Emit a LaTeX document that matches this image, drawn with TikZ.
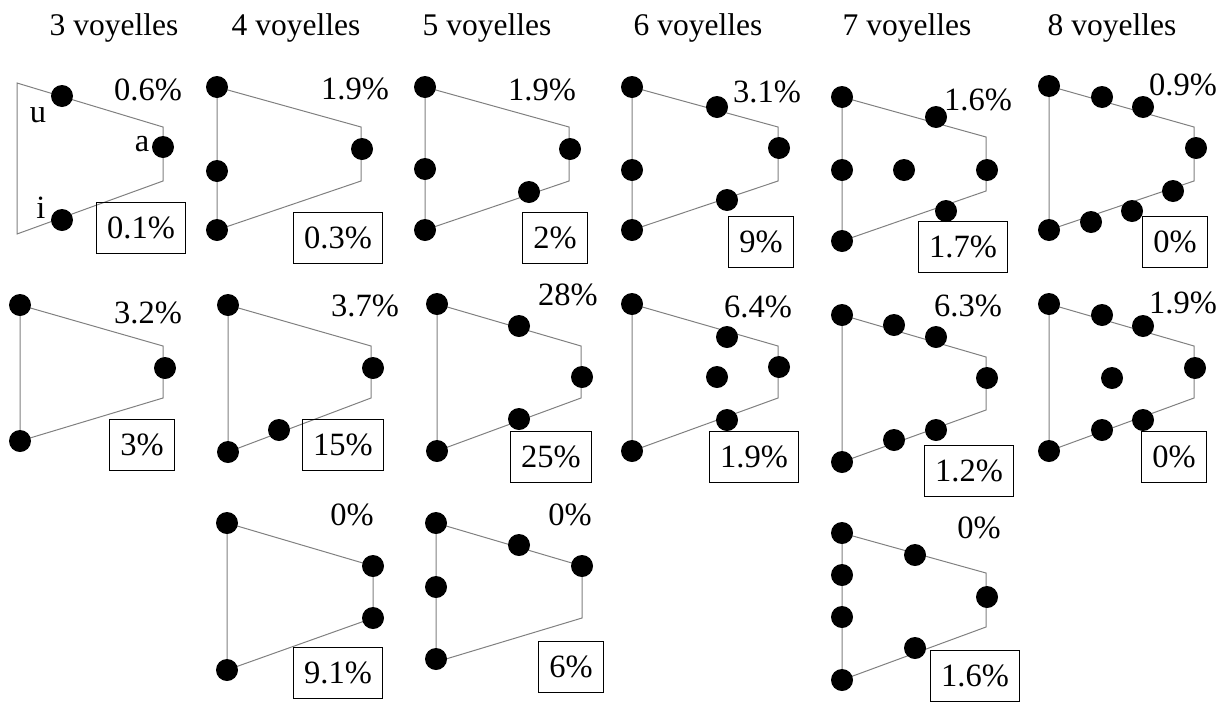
\documentclass[tikz,border=0pt]{standalone}
\usepackage{fontspec}
\setmainfont{Liberation Serif}
\begin{document}
\begin{tikzpicture}[x=1pt,y=-1pt,
  trap/.style={draw=gray,line width=1pt,line join=miter},
  dot/.style={circle,fill=black,draw=none,inner sep=0pt,minimum size=22pt},
  txt/.style={font=\fontsize{32.5}{38}\selectfont,inner sep=0pt},
  ttl/.style={font=\fontsize{31.5}{37}\selectfont,inner sep=0pt,anchor=base},
  pbox/.style={txt,draw=black,line width=1.1pt,inner xsep=11pt,inner ysep=0pt,minimum height=51pt}]
\useasboundingbox (0,0) rectangle (1221,702);
% titles
\node[ttl] (t3) at (114,35) {3 voyelles};
\node[ttl] (t4) at (296,35) {4 voyelles};
\node[ttl] (t5) at (487,35) {5 voyelles};
\node[ttl] (t6) at (698,35) {6 voyelles};
\node[ttl] (t7) at (907,35) {7 voyelles};
\node[ttl] (t8) at (1112,35) {8 voyelles};
% ---------- row 1 ----------
\draw[trap] (17,83) -- (163,127) -- (163,181) -- (17,234) -- cycle;
\draw[trap] (217,87) -- (361,127) -- (361,181) -- (217,230) -- cycle;
\draw[trap] (425,87) -- (569,127) -- (569,181) -- (425,230) -- cycle;
\draw[trap] (632,87) -- (778,127) -- (778,181) -- (632,230) -- cycle;
\draw[trap] (842,97) -- (986,137) -- (986,191) -- (842,241) -- cycle;
\draw[trap] (1049,86) -- (1194,127) -- (1194,181) -- (1049,230) -- cycle;
% ---------- row 2 ----------
\draw[trap] (20,305) -- (163,346) -- (163,398) -- (20,441) -- cycle;
\draw[trap] (228,305) -- (371,346) -- (371,398) -- (228,452) -- cycle;
\draw[trap] (437,304) -- (581,346) -- (581,398) -- (437,451) -- cycle;
\draw[trap] (632,304) -- (778,346) -- (778,398) -- (632,451) -- cycle;
\draw[trap] (842,315) -- (986,357) -- (986,410) -- (842,462) -- cycle;
\draw[trap] (1049,304) -- (1194,346) -- (1194,398) -- (1049,451) -- cycle;
% ---------- row 3 ----------
\draw[trap] (227,523) -- (373,566) -- (373,618) -- (227,670) -- cycle;
\draw[trap] (436,523) -- (582,566) -- (582,618) -- (436,662) -- cycle;
\draw[trap] (842,533) -- (986,573) -- (986,627) -- (842,680) -- cycle;
% ---------- dots ----------
\foreach \x/\y [count=\i] in {62/96,163/147,62/220}
  \node[dot] (a1-\i) at (\x,\y) {};
\foreach \x/\y [count=\i] in {217/87,217/171,217/230,362/149}
  \node[dot] (a2-\i) at (\x,\y) {};
\foreach \x/\y [count=\i] in {425/87,425/169,425/230,570/149,529/192}
  \node[dot] (a3-\i) at (\x,\y) {};
\foreach \x/\y [count=\i] in {632/87,632/170,632/230,717/107,779/148,727/200}
  \node[dot] (a4-\i) at (\x,\y) {};
\foreach \x/\y [count=\i] in {842/97,842/170,842/241,904/170,936/117,987/170,946/211}
  \node[dot] (a5-\i) at (\x,\y) {};
\foreach \x/\y [count=\i] in {1049/86,1102/97,1143/107,1196/148,1173/191,1132/211,1091/222,1049/230}
  \node[dot] (a6-\i) at (\x,\y) {};
\foreach \x/\y [count=\i] in {20/305,165/368,20/441}
  \node[dot] (b1-\i) at (\x,\y) {};
\foreach \x/\y [count=\i] in {228/305,373/368,279/430,228/452}
  \node[dot] (b2-\i) at (\x,\y) {};
\foreach \x/\y [count=\i] in {437/304,519/326,582/377,519/419,437/451}
  \node[dot] (b3-\i) at (\x,\y) {};
\foreach \x/\y [count=\i] in {632/304,727/337,717/377,779/367,727/420,632/451}
  \node[dot] (b4-\i) at (\x,\y) {};
\foreach \x/\y [count=\i] in {842/315,894/325,936/337,987/378,936/430,894/440,842/462}
  \node[dot] (b5-\i) at (\x,\y) {};
\foreach \x/\y [count=\i] in {1049/304,1102/315,1143/326,1195/368,1112/378,1143/420,1102/430,1049/451}
  \node[dot] (b6-\i) at (\x,\y) {};
\foreach \x/\y [count=\i] in {227/523,373/566,373/618,227/670}
  \node[dot] (c2-\i) at (\x,\y) {};
\foreach \x/\y [count=\i] in {436/523,436/587,436/659,519/545,582/566}
  \node[dot] (c3-\i) at (\x,\y) {};
\foreach \x/\y [count=\i] in {842/533,842/575,842/617,842/680,915/555,987/597,915/648}
  \node[dot] (c5-\i) at (\x,\y) {};
% vowel labels
\node[txt] (lu) at (38,115) {u};
\node[txt] (la) at (142,144) {a};
\node[txt] (li) at (41,208) {i};
% top percentages
\node[txt] (pa1) at (148,90) {0.6\%};
\node[txt] (pa2) at (355,89) {1.9\%};
\node[txt] (pa3) at (542,90) {1.9\%};
\node[txt] (pa4) at (767,92) {3.1\%};
\node[txt] (pa5) at (978,100) {1.6\%};
\node[txt] (pa6) at (1183,85) {0.9\%};
\node[txt] (pb1) at (148,313) {3.2\%};
\node[txt] (pb2) at (365,306) {3.7\%};
\node[txt] (pb3) at (568,295) {28\%};
\node[txt] (pb4) at (758,307) {6.4\%};
\node[txt] (pb5) at (968,306) {6.3\%};
\node[txt] (pb6) at (1183,303) {1.9\%};
\node[txt] (pc2) at (352,515) {0\%};
\node[txt] (pc3) at (570,515) {0\%};
\node[txt] (pc5) at (979,528) {0\%};
% boxed percentages
\node[pbox] (qa1) at (141,228) {0.1\%};
\node[pbox] (qa2) at (338,238) {0.3\%};
\node[pbox] (qa3) at (555,238) {2\%};
\node[pbox] (qa4) at (761,242) {9\%};
\node[pbox] (qa5) at (963,247) {1.7\%};
\node[pbox] (qa6) at (1175,242) {0\%};
\node[pbox] (qb1) at (142,445) {3\%};
\node[pbox] (qb2) at (343,445) {15\%};
\node[pbox] (qb3) at (551,457) {25\%};
\node[pbox] (qb4) at (754,457) {1.9\%};
\node[pbox] (qb5) at (969,471) {1.2\%};
\node[pbox] (qb6) at (1174,457) {0\%};
\node[pbox] (qc2) at (338,673) {9.1\%};
\node[pbox] (qc3) at (571,667) {6\%};
\node[pbox] (qc5) at (975,676) {1.6\%};
\end{tikzpicture}
\end{document}
